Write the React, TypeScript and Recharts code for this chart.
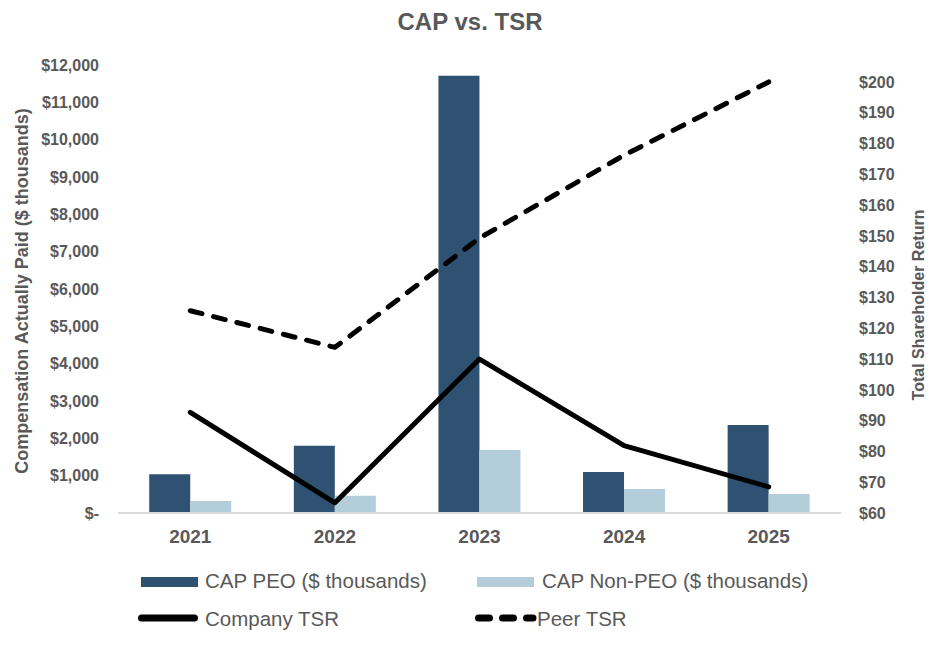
import React from 'react';
import { ComposedChart, Bar, Line, XAxis, YAxis } from 'recharts';

const years = ['2021', '2022', '2023', '2024', '2025'];
const capPeo = [1040, 1800, 11710, 1100, 2360];
const capNonPeo = [320, 460, 1690, 640, 510];
const companyTsr = [92.7, 63.3, 110, 81.9, 68.5];
const peerTsr = [125.7, 113.8, 149.3, 176.2, 200];

const leftTicks = [0, 1000, 2000, 3000, 4000, 5000, 6000, 7000, 8000, 9000, 10000, 11000, 12000];
const rightTicks = [60, 70, 80, 90, 100, 110, 120, 130, 140, 150, 160, 170, 180, 190, 200];

const data = years.map((year, i) => ({
  year,
  peo: capPeo[i],
  nonPeo: capNonPeo[i],
  company: companyTsr[i],
  peer: peerTsr[i],
}));

const DARK = '#2F5273';
const LIGHT = '#B4CDDB';
const GRAY = '#595959';
const FONT = '"Liberation Sans", Arial, sans-serif';

const fmtLeft = (v: number) => (v === 0 ? '$-' : '$' + v.toLocaleString('en-US'));
const fmtRight = (v: number) => '$' + v;

const tickStyle = { fill: GRAY, fontSize: 16, fontWeight: 700, fontFamily: FONT };
const legendText = { position: 'absolute' as const, fontSize: 20.5, color: GRAY, whiteSpace: 'nowrap' as const };

export default function App() {
  return (
    <div style={{ position: 'absolute', left: 0, top: 0, width: 936, height: 646, background: '#fff', fontFamily: FONT }}>
      <div style={{ position: 'absolute', left: 0, width: 936, top: 8, textAlign: 'center', paddingLeft: 2, fontSize: 24, fontWeight: 700, color: GRAY }}>
        CAP vs. TSR
      </div>
      <div style={{ position: 'absolute', left: 22, top: 291, transform: 'translate(-50%, -50%) rotate(-90deg)', whiteSpace: 'nowrap', fontSize: 18, fontWeight: 700, color: GRAY }}>
        Compensation Actually Paid ($ thousands)
      </div>
      <div style={{ position: 'absolute', left: 919, top: 305, transform: 'translate(-50%, -50%) rotate(-90deg)', whiteSpace: 'nowrap', fontSize: 16, fontWeight: 700, color: GRAY }}>
        Total Shareholder Return
      </div>

      <ComposedChart
        width={936}
        height={646}
        data={data}
        margin={{ top: 65, right: 10, bottom: 103, left: 10 }}
        barCategoryGap="21.6%"
        barGap={0}
      >
        <XAxis
          dataKey="year"
          axisLine={{ stroke: '#D9D9D9', strokeWidth: 2 }}
          tickLine={false}
          tickMargin={11}
          height={30}
          tick={{ fill: GRAY, fontSize: 19, fontWeight: 700, fontFamily: FONT }}
        />
        <YAxis
          yAxisId="left"
          orientation="left"
          width={108}
          domain={[0, 12000]}
          ticks={leftTicks}
          tickFormatter={fmtLeft}
          axisLine={false}
          tickLine={false}
          tickMargin={13}
          tick={tickStyle}
          interval={0}
        />
        <YAxis
          yAxisId="right"
          orientation="right"
          width={85}
          domain={[60, 205.5]}
          ticks={rightTicks}
          tickFormatter={fmtRight}
          axisLine={false}
          tickLine={false}
          tickMargin={12}
          tick={{ ...tickStyle, textAnchor: 'start' }}
          interval={0}
          allowDataOverflow
        />
        <Bar yAxisId="left" dataKey="peo" fill={DARK} isAnimationActive={false} />
        <Bar yAxisId="left" dataKey="nonPeo" fill={LIGHT} isAnimationActive={false} />
        <Line
          yAxisId="right"
          dataKey="company"
          stroke="#000"
          strokeWidth={5}
          strokeLinecap="round"
          strokeLinejoin="round"
          dot={false}
          activeDot={false}
          isAnimationActive={false}
        />
        <Line
          yAxisId="right"
          dataKey="peer"
          stroke="#000"
          strokeWidth={5}
          strokeDasharray="12 12"
          strokeLinecap="round"
          strokeLinejoin="round"
          dot={false}
          activeDot={false}
          isAnimationActive={false}
        />
      </ComposedChart>

      {/* legend */}
      <div style={{ position: 'absolute', left: 141, top: 577, width: 57, height: 10, background: DARK }} />
      <div style={{ ...legendText, left: 205, top: 569 }}>CAP PEO ($ thousands)</div>
      <div style={{ position: 'absolute', left: 477, top: 577, width: 57, height: 10, background: LIGHT }} />
      <div style={{ ...legendText, left: 542, top: 569 }}>CAP Non-PEO ($ thousands)</div>
      <svg style={{ position: 'absolute', left: 134, top: 610 }} width={72} height={16}>
        <line x1={7.5} y1={8} x2={60.5} y2={8} stroke="#000" strokeWidth={7} strokeLinecap="round" />
      </svg>
      <div style={{ ...legendText, left: 205, top: 607 }}>Company TSR</div>
      <svg style={{ position: 'absolute', left: 470, top: 610 }} width={70} height={16}>
        <line x1={8.5} y1={8} x2={63} y2={8} stroke="#000" strokeWidth={7} strokeLinecap="round" strokeDasharray="11 13" />
      </svg>
      <div style={{ ...legendText, left: 537, top: 607 }}>Peer TSR</div>
    </div>
  );
}
